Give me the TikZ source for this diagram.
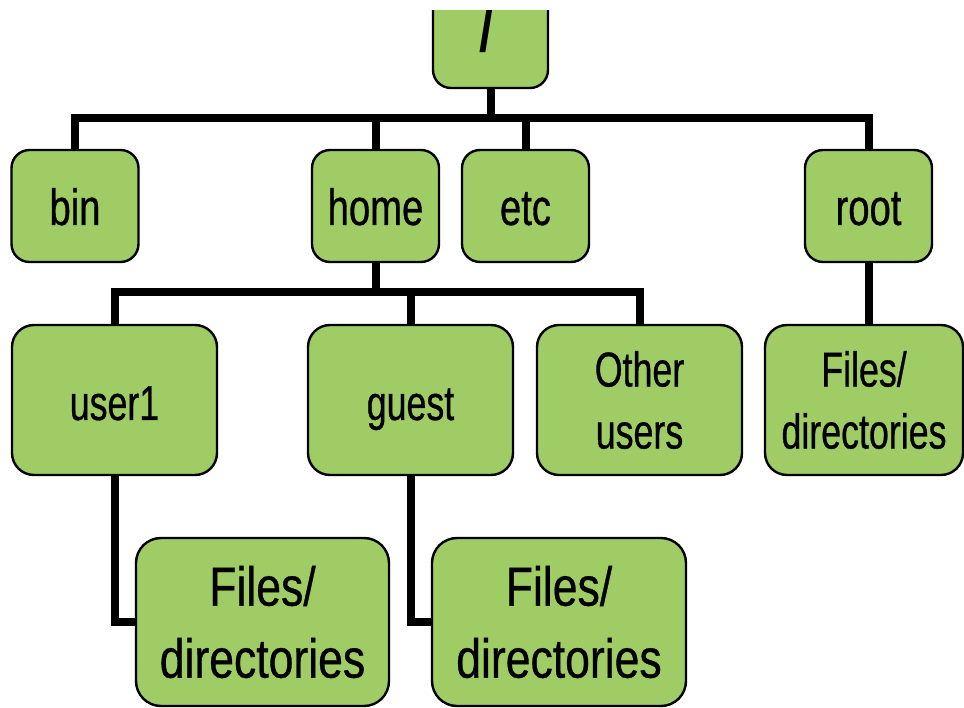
\documentclass[tikz,border=0pt]{standalone}
\usepackage{fontspec}
\setmainfont{Liberation Sans}[FakeStretch=0.78]
\newfontfamily\rowonefont{Liberation Sans}[FakeStretch=0.75, FakeBold=0.6]
\newfontfamily\rowtwofont{Liberation Sans}[FakeStretch=0.73, FakeBold=0.6]
\newfontfamily\rowthreefont{Liberation Sans}[FakeStretch=0.81, FakeBold=0.6]
\newfontfamily\slashfont{Liberation Sans Bold}[FakeStretch=0.85]
\definecolor{leaf}{RGB}{160,204,101}
\begin{document}
\begin{tikzpicture}[x=1pt,y=-1pt,
  dirbox/.style={draw=black, fill=leaf, line width=2.4pt, inner sep=0pt, align=center, text=black},
  lvlone/.style={dirbox, minimum width=127pt, minimum height=112pt, rounded corners=18pt,
    font=\rowonefont\fontsize{51}{62}\selectfont, text height=38pt, text depth=0pt},
  lvltwo/.style={dirbox, minimum width=205pt, minimum height=150pt, rounded corners=22pt,
    font=\rowtwofont\fontsize{49}{62}\selectfont},
  oneline/.style={text height=40pt, text depth=0pt},
  lvlthree/.style={dirbox, minimum width=253pt, minimum height=168pt, rounded corners=25pt,
    font=\rowthreefont\fontsize{55}{72}\selectfont},
  wire/.style={line width=8pt, line cap=butt, line join=miter, draw=black}]
\useasboundingbox (0,0) rectangle (964,708);
\clip (0,11) rectangle (964,708);

% bus levels
\coordinate (busA) at (0,118);
\coordinate (busB) at (0,292);

% the root directory
\node[dirbox, minimum width=115pt, minimum height=110pt, rounded corners=18pt] (top) at (490.5,33) {};
\node[font=\slashfont\fontsize{58}{62}\selectfont, inner sep=0pt, anchor=base] (slash) at (486,52) {/};

% first level
\node[lvlone] (bin)  at (75,206)    {bin};
\node[lvlone] (home) at (375.5,206) {home};
\node[lvlone] (etc)  at (525.5,206) {etc};
\node[lvlone] (root) at (868.5,206) {root};

% second level
\node[lvltwo, oneline] (user1)  at (114.5,400) {user1};
\node[lvltwo, oneline] (guest)  at (410.5,400) {guest};
\node[lvltwo] (others) at (639.5,400) {Other\\users};
\node[lvltwo, minimum width=198pt] (rootfiles) at (864,400) {Files/\\directories};

% third level
\node[lvlthree] (userfiles)  at (262.5,622) {Files/\\directories};
\node[lvlthree, minimum width=254pt] (guestfiles) at (559,622) {Files/\\directories};

% connectors
\draw[wire] (bin.north) -- (bin.north |- busA) -- (root.north |- busA) -- (root.north);
\draw[wire] (top.south) -- (top.south |- busA);
\draw[wire] (home.north) -- (home.north |- busA);
\draw[wire] (etc.north) -- (etc.north |- busA);

\draw[wire] (user1.north) -- (user1.north |- busB) -- (others.north |- busB) -- (others.north);
\draw[wire] (home.south) -- (home.south |- busB);
\draw[wire] (guest.north) -- (guest.north |- busB);

\draw[wire] (root.south) -- (root.south |- rootfiles.north);

\draw[wire] (user1.south) |- (userfiles.west);
\draw[wire] (guest.south) |- (guestfiles.west);
\end{tikzpicture}
\end{document}
